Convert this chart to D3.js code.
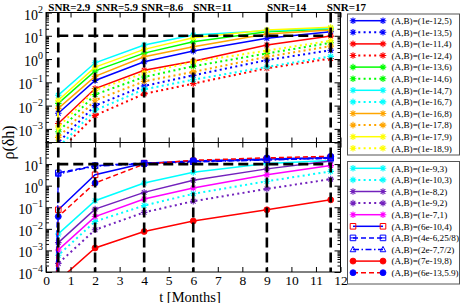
<!DOCTYPE html>
<html>
<head>
<meta charset="utf-8">
<script src="https://cdn.jsdelivr.net/npm/d3@7"></script>
<style>
  body { margin: 0; background: #fff; }
  text { font-family: "Liberation Serif", "DejaVu Serif", serif; }
</style>
</head>
<body>
<svg id="chart" width="463" height="303"></svg>
<script>
// sample times in months (first point sits below the axes)
const times = [0.4, 0.5, 2, 4, 6, 9, 11.6];

// marker times: SNR reached at each one
const snrTimes = [0.5, 2, 4, 6, 9, 11.6];
const snrLabels = ["SNR=2.9", "SNR=5.9", "SNR=8.6", "SNR=11", "SNR=14", "SNR=17"];
const threshold = 10;

// upper panel
const topLabels = [
  "(A,B)=(1e-12,5)", "(A,B)=(1e-13,5)", "(A,B)=(1e-11,4)", "(A,B)=(1e-12,4)",
  "(A,B)=(1e-13,6)", "(A,B)=(1e-14,6)", "(A,B)=(1e-14,7)", "(A,B)=(1e-16,7)",
  "(A,B)=(1e-16,8)", "(A,B)=(1e-17,8)", "(A,B)=(1e-17,9)", "(A,B)=(1e-18,9)"
];
const topValues = [
  [1e-6, 0.0047, 0.12, 0.76, 2.2, 7.8, 15],
  [1e-6, 2.6e-4, 0.01, 0.07, 0.2, 0.9, 2.4],
  [1e-6, 0.0017, 0.054, 0.33, 0.8, 4, 9.7],
  [1e-6, 1e-4, 0.0038, 0.032, 0.088, 0.4, 1.05],
  [1e-6, 0.0125, 0.31, 1.8, 5.5, 15, 19.5],
  [1e-6, 7.5e-4, 0.03, 0.17, 0.49, 1.75, 5],
  [1e-6, 0.028, 0.69, 4, 10.7, 16.5, 21],
  [1e-6, 1.6e-4, 0.0063, 0.05, 0.13, 0.46, 1.3],
  [1e-6, 0.0076, 0.18, 1.25, 3.4, 11.8, 17.6],
  [1e-6, 4.3e-4, 0.017, 0.11, 0.28, 1.25, 3.6],
  [1e-6, 0.017, 0.45, 2.6, 8.2, 17.6, 23],
  [1e-6, 1.2e-3, 0.046, 0.25, 0.76, 2.3, 6.1]
];

// lower panel
const botLabels = [
  "(A,B)=(1e-9,3)", "(A,B)=(1e-10,3)", "(A,B)=(1e-8,2)", "(A,B)=(1e-9,2)",
  "(A,B)=(1e-7,1)", "(A,B)=(6e-10,4)", "(A,B)=(4e-6,25/8)", "(A,B)=(2e-7,7/2)",
  "(A,B)=(7e-19,8)", "(A,B)=(6e-13,5.9)"
];
const botValues = [
  [1e-6, 5.8e-3, 0.2, 1.33, 4.15, 10.6, 14.5],
  [1e-7, 6e-4, 0.022, 0.12, 0.42, 1.6, 4.6],
  [1e-6, 2.3e-3, 0.082, 0.49, 1.77, 6, 14],
  [1e-7, 2.5e-4, 9e-3, 0.058, 0.19, 0.71, 2.0],
  [1e-6, 1.05e-3, 0.037, 0.24, 0.78, 3.2, 8.5],
  [1e-6, 0.076, 3.2, 11, 14, 17, 20],
  [1e-6, 3.9, 8.5, 11, 13, 16, 19],
  [1e-6, 3.5, 8, 10.5, 12.5, 15.5, 18.5],
  [1e-5, 4e-5, 1.3e-3, 7.5e-3, 0.023, 0.076, 0.22],
  [1e-6, 0.037, 1.33, 10, 15, 19.4, 23]
];

const BLUE = "#0000ff", RED = "#ff0000", GREEN = "#00ff00", CYAN = "#00ffff",
  ORANGE = "#ffa500", YELLOW = "#ffff00", MAGENTA = "#ff00ff", INDIGO = "#7221bc";

// line / marker styles, same order as the labels
const topStyles = [
  { c: BLUE, dash: "solid", m: "star" }, { c: BLUE, dash: "dot", m: "star" },
  { c: RED, dash: "solid", m: "star" }, { c: RED, dash: "dot", m: "star" },
  { c: GREEN, dash: "solid", m: "star" }, { c: GREEN, dash: "dot", m: "star" },
  { c: CYAN, dash: "solid", m: "star" }, { c: CYAN, dash: "dot", m: "star" },
  { c: ORANGE, dash: "solid", m: "star" }, { c: ORANGE, dash: "dot", m: "star" },
  { c: YELLOW, dash: "solid", m: "star" }, { c: YELLOW, dash: "dot", m: "star" }
];
const botStyles = [
  { c: CYAN, dash: "solid", m: "star" }, { c: CYAN, dash: "dot", m: "star" },
  { c: INDIGO, dash: "solid", m: "star" }, { c: INDIGO, dash: "dot", m: "star" },
  { c: MAGENTA, dash: "solid", m: "star" },
  { c: BLUE, dash: "solid", m: "square", mc: RED },
  { c: BLUE, dash: "dash", m: "squareplus" },
  { c: BLUE, dash: "dashdot", m: "triangle" },
  { c: RED, dash: "solid", m: "circle" },
  { c: RED, dash: "dash", m: "circle", mc: BLUE }
];

const dashes = { solid: null, dot: "2,3.3", dash: "5,3", dashdot: "6,2.5,1.5,2.5" };

const svg = d3.select("#chart");
const left = 46, right = 340.5;
const topPanel = { y0: 12.5, y1: 142.5 };
const botPanel = { y0: 142.5, y1: 272 };

const x = d3.scaleLinear().domain([0, 12]).range([left, right]);
const yTop = d3.scaleLog().domain([2.6e-4, 100]).range([topPanel.y1, topPanel.y0]);
const yBot = d3.scaleLog().domain([1e-4, 100]).range([botPanel.y1, botPanel.y0]);

const defs = svg.append("defs");
[["clipTop", topPanel], ["clipBot", botPanel]].forEach(([id, p]) => {
  defs.append("clipPath").attr("id", id).append("rect")
    .attr("x", left).attr("y", p.y0).attr("width", right - left).attr("height", p.y1 - p.y0);
});

function markerPath(m, r) {
  if (m === "star") {
    const k = r * 0.707;
    return `M${-r},0L${r},0M0,${-r}L0,${r}M${-k},${-k}L${k},${k}M${-k},${k}L${k},${-k}`;
  }
  if (m === "square") return `M${-r},${-r}H${r}V${r}H${-r}Z`;
  if (m === "squareplus") return `M${-r},${-r}H${r}V${r}H${-r}ZM${-r},0H${r}`;
  if (m === "triangle") return `M0,${-r * 1.1}L${r},${r * 0.8}L${-r},${r * 0.8}Z`;
  return d3.symbol(d3.symbolCircle, Math.PI * r * r)();
}

function drawMarker(g, m, color, px, py) {
  const r = m === "circle" ? 3 : (m === "star" ? 3.3 : 2.8);
  const p = g.append("path").attr("d", markerPath(m, r))
    .attr("transform", `translate(${px},${py})`);
  if (m === "circle") p.attr("fill", color).attr("stroke", color).attr("stroke-width", 0.8);
  else p.attr("fill", "none").attr("stroke", color).attr("stroke-width", m === "star" ? 1.1 : 1);
}

function drawSeries(values, styles, y, clip) {
  const g = svg.append("g").attr("clip-path", `url(#${clip})`);
  const line = d3.line().x((d, i) => x(times[i])).y(d => y(d));
  values.forEach((vals, k) => {
    const s = styles[k];
    g.append("path").datum(vals).attr("d", line)
      .attr("fill", "none").attr("stroke", s.c)
      .attr("stroke-width", s.dash === "dot" ? 2 : 1.5)
      .attr("stroke-dasharray", dashes[s.dash]);
    vals.forEach((v, i) => drawMarker(g, s.m, s.mc || s.c, x(times[i]), y(v)));
  });
}

drawSeries(topValues, topStyles, yTop, "clipTop");
drawSeries(botValues, botStyles, yBot, "clipBot");

// threshold and SNR guide lines
const guides = svg.append("g").attr("stroke", "#000").attr("stroke-width", 2.6)
  .attr("stroke-dasharray", "10,5").attr("fill", "none");
snrTimes.forEach(t => {
  guides.append("line").attr("x1", x(t)).attr("x2", x(t))
    .attr("y1", topPanel.y0).attr("y2", botPanel.y1);
});
[yTop, yBot].forEach(y => {
  guides.append("line").attr("x1", x(snrTimes[0])).attr("x2", x(snrTimes[snrTimes.length - 1]))
    .attr("y1", y(threshold)).attr("y2", y(threshold));
});

// axes: ticks point inwards on every side
function xTicks(yPos, dir, labels) {
  const ax = (dir > 0 ? d3.axisBottom(x) : d3.axisTop(x))
    .tickValues(d3.range(0, 13)).tickSize(-5).tickPadding(3)
    .tickFormat(labels ? d3.format("d") : "");
  const g = svg.append("g").attr("transform", `translate(0,${yPos})`).call(ax);
  g.select(".domain").remove();
  g.selectAll("line").attr("stroke", "#000");
  g.selectAll("text").attr("font-size", 13.5).attr("fill", "#000")
    .attr("font-family", "Liberation Serif, serif");
}
xTicks(topPanel.y0, -1, false);
xTicks(topPanel.y1, 1, false);
xTicks(botPanel.y0, -1, false);
xTicks(botPanel.y1, 1, true);

function yTicks(y, exps) {
  const [lo, hi] = y.domain();
  const major = [], minor = [];
  for (let e = -5; e <= 2; e++) {
    for (let m = 1; m < 10; m++) {
      const v = m * Math.pow(10, e);
      if (v < lo * 0.999 || v > hi * 1.001) continue;
      (m === 1 ? major : minor).push(v);
    }
  }
  [[d3.axisLeft, left], [d3.axisRight, right]].forEach(([fn, xp]) => {
    [[major, -6], [minor, -3]].forEach(([vals, size]) => {
      const g = svg.append("g").attr("transform", `translate(${xp},0)`)
        .call(fn(y).tickValues(vals).tickSize(size).tickFormat(""));
      g.select(".domain").remove();
      g.selectAll("line").attr("stroke", "#000");
    });
  });
  exps.forEach(e => {
    const t = svg.append("text").attr("x", 43).attr("y", y(Math.pow(10, e)) + 7)
      .attr("text-anchor", "end").attr("fill", "#000");
    t.append("tspan").attr("font-size", 14).text("10");
    t.append("tspan").attr("font-size", 10).attr("dy", -7)
      .text(e < 0 ? "\u2212" + Math.abs(e) : String(e));
  });
}
yTicks(yTop, [2, 1, 0, -1, -2, -3]);
yTicks(yBot, [1, 0, -1, -2, -3, -4]);

// frames
[topPanel, botPanel].forEach(p => {
  svg.append("rect").attr("x", left).attr("y", p.y0)
    .attr("width", right - left).attr("height", p.y1 - p.y0)
    .attr("fill", "none").attr("stroke", "#000").attr("stroke-width", 1);
});

// SNR labels above the guide lines
const snrShift = [-10, 1, -3, 0, 0, -4];
snrLabels.forEach((s, i) => {
  svg.append("text").attr("x", x(snrTimes[i]) + snrShift[i]).attr("y", 10.5)
    .attr("font-size", 11).attr("font-weight", "bold").text(s);
});

// axis titles
svg.append("text").attr("x", 190).attr("y", 301.5)
  .attr("text-anchor", "middle").attr("font-size", 14.5).text("t [Months]");
svg.append("text").attr("transform", `translate(14,${botPanel.y0}) rotate(-90)`)
  .attr("text-anchor", "middle").attr("font-size", 16).text("\u03c1(\u03b4h)");

// legends
function legend(labels, styles, y0, boxTop, boxBottom) {
  const g = svg.append("g");
  g.append("rect").attr("x", 347.5).attr("y", boxTop).attr("width", 112)
    .attr("height", boxBottom - boxTop).attr("fill", "#fff")
    .attr("stroke", "#555").attr("stroke-width", 1);
  labels.forEach((lab, i) => {
    const s = styles[i];
    const yy = y0 + i * 11.6;
    g.append("line").attr("x1", 353).attr("x2", 383).attr("y1", yy).attr("y2", yy)
      .attr("stroke", s.c).attr("stroke-width", s.dash === "dot" ? 2 : 1.5)
      .attr("stroke-dasharray", dashes[s.dash]);
    drawMarker(g, s.m, s.mc || s.c, 353, yy);
    drawMarker(g, s.m, s.mc || s.c, 383, yy);
    g.append("text").attr("x", 391.5).attr("y", yy + 3.3).attr("font-size", 9.2).text(lab);
  });
}
legend(topLabels, topStyles, 20.7, 14, 155);
legend(botLabels, botStyles, 168.3, 161.5, 284);
</script>
</body>
</html>
